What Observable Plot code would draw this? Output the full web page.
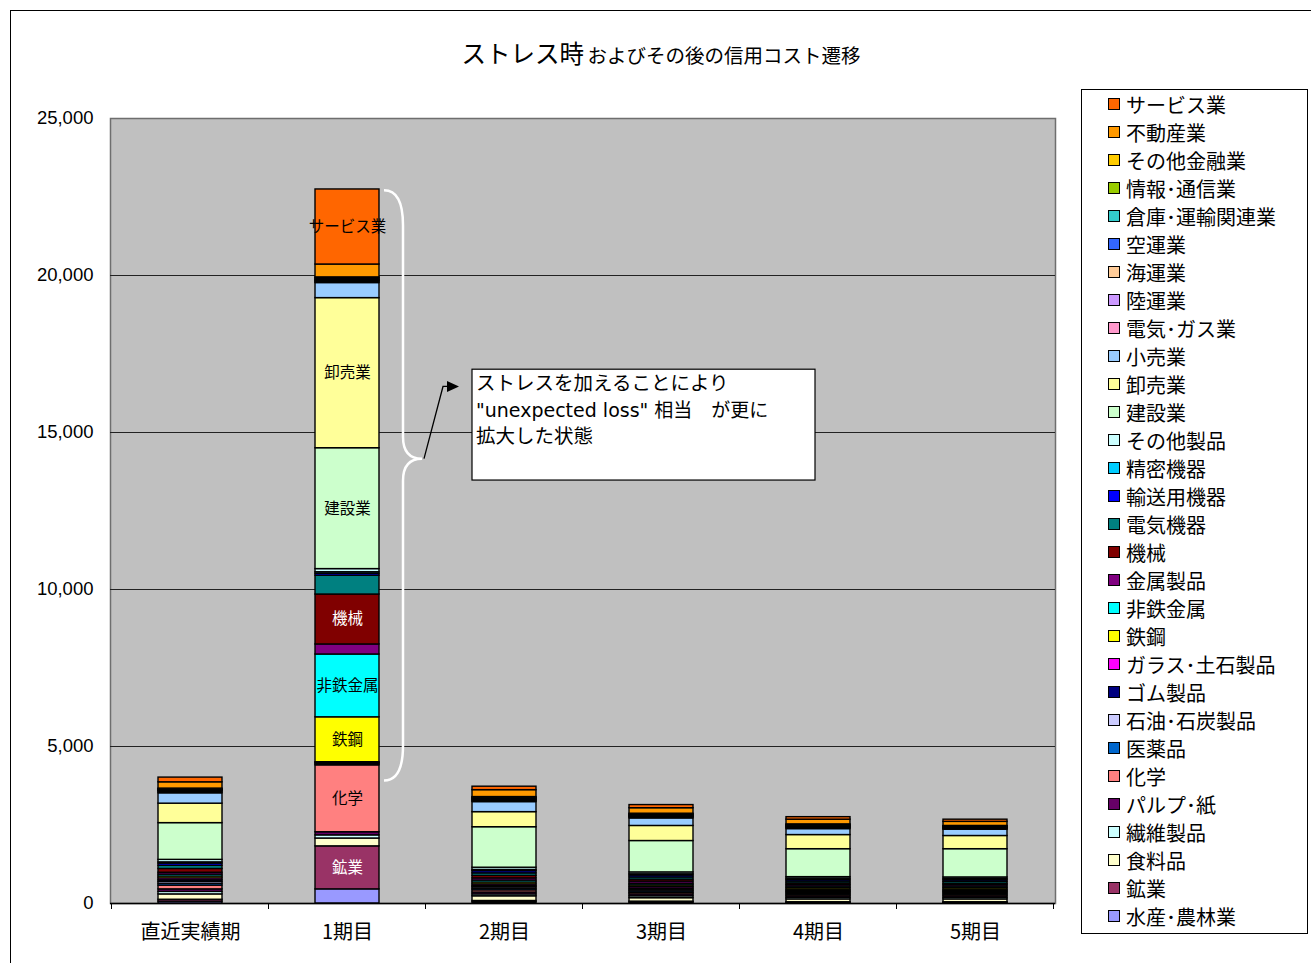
<!DOCTYPE html>
<html><head><meta charset="utf-8">
<script src="https://cdn.jsdelivr.net/npm/d3@7"></script>
<script src="https://cdn.jsdelivr.net/npm/@observablehq/plot@0.6"></script>
<style>
body{margin:0;background:#fff;font-family:"Noto Sans CJK JP","Noto Sans",sans-serif;}
#wrap{position:relative;width:1311px;height:963px;overflow:hidden;background:#fff;}
#border{position:absolute;left:10px;top:10px;width:1400px;height:1000px;border:1px solid #000;}
#chart{position:absolute;left:0;top:0;}
#title{position:absolute;left:0;width:1322px;top:35px;text-align:center;line-height:36px;color:#000;white-space:nowrap;}
#title .big{font-size:24.5px;}
#title .small{font-size:19.5px;}
#legend{position:absolute;left:1081px;top:89px;width:225px;height:843px;border:1px solid #000;background:#fff;}
.row{height:28.03px;display:flex;align-items:center;padding-left:26px;font-size:20px;white-space:nowrap;}
.sw{width:10px;height:10px;border:1.5px solid #000;margin-right:6px;flex:none;}
</style></head>
<body>
<div id="wrap">
  <div id="border"></div>
  <div id="chart"></div>
  <div id="title"><span class="big">ストレス時</span> <span class="small">およびその後の信用コスト遷移</span></div>
  <div id="legend"></div>
</div>
<script>
// Periods (x categories)
const periods = ["直近実績期", "1期目", "2期目", "3期目", "4期目", "5期目"];
// Industries, stacking order bottom -> top
const industries = ["水産･農林業","鉱業","食料品","繊維製品","パルプ･紙","化学","医薬品","石油･石炭製品","ゴム製品","ガラス･土石製品","鉄鋼","非鉄金属","金属製品","機械","電気機器","輸送用機器","精密機器","その他製品","建設業","卸売業","小売業","電気･ガス業","陸運業","海運業","空運業","倉庫･運輸関連業","情報･通信業","その他金融業","不動産業","サービス業"];
const colors = ["#9999FF","#993366","#FFFFCC","#CCFFFF","#660066","#FF8080","#0066CC","#CCCCFF","#000080","#FF00FF","#FFFF00","#00FFFF","#800080","#800000","#008080","#0000FF","#00CCFF","#CCFFFF","#CCFFCC","#FFFF99","#99CCFF","#FF99CC","#CC99FF","#FFCC99","#3366FF","#33CCCC","#99CC00","#FFCC00","#FF9900","#FF6600"];
// Values per period, same order as industries
const valuesRecent = [60,60,170,80,80,120,60,60,50,60,60,60,60,120,100,70,40,80,1170,620,330,30,30,20,10,20,20,20,200,150];
const valuesP1     = [450,1370,250,100,100,2130,30,30,20,20,1430,2000,320,1590,600,60,50,100,3850,4780,480,30,30,20,20,30,30,20,410,2390];
const valuesP2     = [40,40,150,60,60,70,50,50,40,50,60,60,70,80,80,70,40,70,1290,480,320,30,30,20,20,20,20,20,220,110];
const valuesP3     = [30,30,110,60,60,50,50,50,40,50,50,50,70,60,70,60,40,60,1000,480,240,30,20,20,20,20,20,20,175,100];
const valuesP4     = [20,20,90,50,50,50,40,40,40,40,50,50,50,50,60,50,40,50,890,450,190,30,20,20,20,20,20,20,150,80];
const valuesP5     = [20,20,90,50,50,50,40,40,40,40,50,50,50,40,60,50,40,50,900,420,200,20,20,20,10,20,15,15,130,70];
const seriesByPeriod = [valuesRecent, valuesP1, valuesP2, valuesP3, valuesP4, valuesP5];
// Axis ticks
const yTicks = [0, 5000, 10000, 15000, 20000, 25000];
const gridValues = [5000, 10000, 15000, 20000];
// In-bar labels (1期目 only)
const labelPeriod = "1期目";
const blackLabels = ["サービス業","卸売業","建設業","非鉄金属","鉄鋼","化学"];
const whiteLabels = ["機械","鉱業"];
// Annotation
const annotationLines = ["ストレスを加えることにより", "\"unexpected loss\" 相当　が更に", "拡大した状態"];
const braceTop = 22700, braceTip = 14150, braceBottom = 3900;
const boxTop = 17000, boxBottom = 13470, arrowY = 16450;

const rows = [];
industries.forEach((ind, i) => {
  periods.forEach((p, j) => rows.push({period: p, industry: ind, value: seriesByPeriod[j][i]}));
});

const plot = Plot.plot({
  width: 1070, height: 963,
  marginLeft: 110, marginRight: 15, marginTop: 118, marginBottom: 60,
  x: {domain: periods, paddingInner: 0.59, paddingOuter: 0.295, label: null},
  y: {domain: [0, 25000], label: null},
  color: {domain: industries, range: colors},
  style: {fontFamily: "'Noto Sans CJK JP', sans-serif", background: "transparent", overflow: "visible", color: "#000"},
  marks: [
    Plot.frame({fill: "#C0C0C0", stroke: "#6e6e6e", strokeWidth: 1.5}),
    Plot.ruleY(gridValues, {stroke: "#222", strokeWidth: 1}),
    Plot.barY(rows, {x: "period", y: "value", fill: "industry", stroke: "#000", strokeWidth: 1.4}),
    Plot.text(rows, Plot.stackY({x: "period", y: "value",
      text: d => (d.period === labelPeriod && blackLabels.includes(d.industry)) ? d.industry : "",
      fill: "#000", fontSize: 15.5})),
    Plot.text(rows, Plot.stackY({x: "period", y: "value",
      text: d => (d.period === labelPeriod && whiteLabels.includes(d.industry)) ? d.industry : "",
      fill: "#fff", fontSize: 15.5})),
    Plot.ruleY([0], {stroke: "#000", strokeWidth: 1.5}),
    Plot.axisY({ticks: yTicks, tickFormat: d3.format(","), tickSize: 0, tickPadding: 17, fontSize: 18.5, fontFamily: "'Liberation Sans', Arial, sans-serif", label: null}),
    Plot.axisX({tickSize: 0, tickPadding: 21, fontSize: 20, label: null})
  ]
});
document.getElementById("chart").appendChild(plot);

// Annotations positioned through the plot's scales
const xs = plot.scale("x"), ys = plot.scale("y");
const svg = d3.select(plot);
const bw = xs.bandwidth;
const centers = periods.map(p => xs.apply(p) + bw / 2);
const step = centers[1] - centers[0];
const y0 = ys.apply(0);
// category boundary ticks on x axis
const g0 = svg.append("g");
d3.range(periods.length + 1).forEach(i => {
  const bx = centers[0] - step / 2 + i * step;
  g0.append("line").attr("x1", bx).attr("x2", bx).attr("y1", y0).attr("y2", y0 + 6).attr("stroke", "#000").attr("stroke-width", 1);
});
// brace
const xr = xs.apply(labelPeriod) + bw;
const bx0 = xr + 5, bx1 = xr + 24, bx2 = xr + 43;
const yT = ys.apply(braceTop), yM = ys.apply(braceTip), yB = ys.apply(braceBottom);
svg.append("path")
  .attr("d", `M${bx0},${yT} Q${bx1},${yT} ${bx1},${yT + 35} L${bx1},${yM - 22} Q${bx1},${yM} ${bx2},${yM} Q${bx1},${yM} ${bx1},${yM + 22} L${bx1},${yB - 35} Q${bx1},${yB} ${bx0},${yB}`)
  .attr("fill", "none").attr("stroke", "#fff").attr("stroke-width", 2.5);
// arrow
const ya = ys.apply(arrowY);
svg.append("path").attr("d", `M${bx2 + 2},${yM} L${bx2 + 21},${ya} L${bx2 + 27},${ya}`)
  .attr("fill", "none").attr("stroke", "#000").attr("stroke-width", 1.3);
svg.append("path").attr("d", `M${bx2 + 37},${ya} L${bx2 + 25},${ya - 5.5} L${bx2 + 25},${ya + 5.5} Z`).attr("fill", "#000");
// text box
const boxL = xs.apply("2期目"), boxR = centers[4] - 3;
const bT = ys.apply(boxTop), bB = ys.apply(boxBottom);
svg.append("rect").attr("x", boxL).attr("y", bT).attr("width", boxR - boxL).attr("height", bB - bT)
  .attr("fill", "#fff").attr("stroke", "#000").attr("stroke-width", 1.2);
annotationLines.forEach((t, i) => {
  svg.append("text").attr("x", boxL + 4).attr("y", bT + 21 + i * 26.5)
    .attr("text-anchor", "start")
    .attr("font-size", i === 1 ? 19 : 19.5)
    .attr("font-family", i === 1 ? "'DejaVu Sans', 'Noto Sans CJK JP', sans-serif" : "'Noto Sans CJK JP', sans-serif")
    .attr("fill", "#000")
    .style("white-space", "pre").text(t);
});

// legend (top of stack first)
const leg = d3.select("#legend");
industries.slice().reverse().forEach(ind => {
  const r = leg.append("div").attr("class", "row");
  r.append("div").attr("class", "sw").style("background", colors[industries.indexOf(ind)]);
  r.append("span").text(ind);
});
</script>
</body></html>
